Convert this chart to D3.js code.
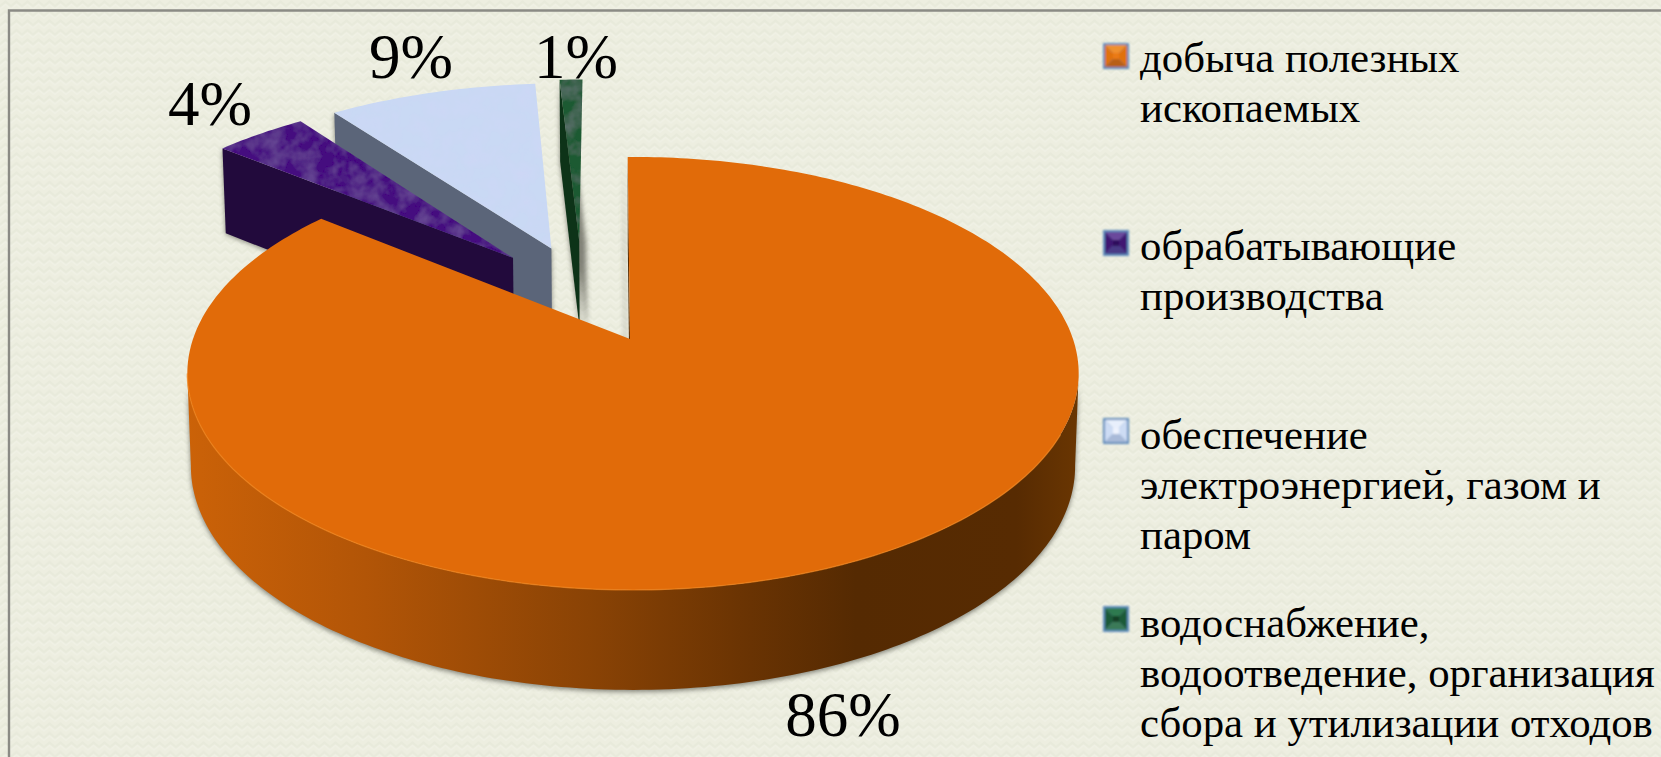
<!DOCTYPE html>
<html lang="ru"><head><meta charset="utf-8">
<script src="https://cdn.jsdelivr.net/npm/d3@7/dist/d3.min.js"></script>
<style>html,body{margin:0;padding:0;background:#edeee0;overflow:hidden}svg{display:block}</style>
</head><body><svg id="c" width="1661" height="757"></svg>
<script>
const categories = ["добыча полезных ископаемых","обрабатывающие производства","обеспечение электроэнергией, газом и паром","водоснабжение, водоотведение, организация сбора и утилизации отходов"];
const shares = [86,4,9,1];
const shareLabels = ["86%","4%","9%","1%"];
const legendLines = [["добыча полезных","ископаемых"],["обрабатывающие","производства"],["обеспечение","электроэнергией, газом и","паром"],["водоснабжение,","водоотведение, организация","сбора и утилизации отходов"]];

const topColors = ["#e16b09","#45107f","#c9d9f4","#1f5a30"];
const wallColors = ["#5a2c02","#220a3c","#5b6579","#0d3318"];
// light edge, side edge, lower edge, centre
const swatchColors = [["#f0902e","#e0710f","#b85f12","#ea7a12"],["#6a4a9c","#3f1272","#4a3a86","#2e0d5c"],["#e8effc","#cddcf4","#a9bad8","#eef3fd"],["#2f7a50","#1f5a38","#3a7a58","#123f28"]];
const explodeDist = [0,0.5,0.5,0.516];
const explodeDir = [0,325,337,345.6];
const sliceRadius = [1,1.03,1.04,1.03];
const labelPos = [[843,736],[210,125],[411,78],[576,78]];
const legendBase = [72,260,449,637];
const legendSwatchY = [43,230,418,606];

const W=1661,H=757, svg=d3.select("#c");
const X0=630,Y0=339,A=440,B=211,K=0.159,HT=91.7,SX=0.992,ROT=-0.8,RIMSHIFT=3;
const rad=d=>d*Math.PI/180;
// perspective projection of the pie's unit disc, z = 0 top face, z = 1 bottom face
function proj(x,y,z=0){const d=1+K*y;return [X0+RIMSHIFT*Math.min(1,Math.hypot(x,y))+A*x*(z?SX:1)/d, Y0-B*y/d+(z?HT/Math.sqrt(d):0)];}
const pie=d3.pie().sort(null).value(d=>d)(shares);
const line=d3.line();
const slices=pie.map((p,i)=>{
  const a0=p.startAngle*180/Math.PI+ROT,a1=p.endAngle*180/Math.PI+ROT,R=sliceRadius[i];
  const ox=explodeDist[i]*Math.sin(rad(explodeDir[i])),oy=explodeDist[i]*Math.cos(rad(explodeDir[i]));
  const n=Math.max(4,Math.ceil((a1-a0)/1));
  const th=d3.range(n+1).map(k=>a0+(a1-a0)*k/n);
  const rim=z=>th.map(t=>proj(ox+R*Math.sin(rad(t)),oy+R*Math.cos(rad(t)),z));
  return {i,a0,a1,ox,oy,th,top:[proj(ox,oy,0),...rim(0)],rimT:rim(0),rimB:rim(1),apexT:proj(ox,oy,0),apexB:proj(ox,oy,1)};
});

const defs=svg.append("defs");
const pat=defs.append("pattern").attr("id","bg").attr("width",11).attr("height",9.5).attr("patternUnits","userSpaceOnUse");
pat.append("rect").attr("width",11).attr("height",9.5).attr("fill","#edeee0");
pat.append("path").attr("d","M0 6 L5.5 1.5 L11 6").attr("fill","none").attr("stroke","#e8eadb").attr("stroke-width",2);
pat.append("path").attr("d","M0 9 L5.5 4.5 L11 9").attr("fill","none").attr("stroke","#f0f1e5").attr("stroke-width",1.5);
const g=defs.append("linearGradient").attr("id","side").attr("gradientUnits","userSpaceOnUse").attr("x1",187).attr("x2",1079).attr("y1",0).attr("y2",0);
[[0,"#cb6208"],[.2,"#b25507"],[.45,"#8a4305"],[.62,"#6b3403"],[.75,"#552a02"],[.93,"#572b02"],[1,"#6a3602"]].forEach(s=>g.append("stop").attr("offset",s[0]).attr("stop-color",s[1]));
defs.append("filter").attr("id","blur").attr("x","-20%").attr("y","-20%").attr("width","140%").attr("height","140%").append("feGaussianBlur").attr("stdDeviation",2.6);
defs.append("filter").attr("id","soft").attr("x","-10%").attr("y","-10%").attr("width","120%").attr("height","120%").append("feGaussianBlur").attr("stdDeviation",0.8);
const tex=defs.append("filter").attr("id","tex").attr("x","0").attr("y","0").attr("width","100%").attr("height","100%");
tex.append("feTurbulence").attr("type","fractalNoise").attr("baseFrequency",0.06).attr("numOctaves",3).attr("seed",4).attr("result","n");
tex.append("feColorMatrix").attr("in","n").attr("type","matrix").attr("values","0 0 0 0 0.8  0 0 0 0 0.6  0 0 0 0 1  0.22 0 0 0 -0.08").attr("result","m");
tex.append("feComposite").attr("in","m").attr("in2","SourceAlpha").attr("operator","in").attr("result","c");
tex.append("feMerge").selectAll("feMergeNode").data(["SourceGraphic","c"]).join("feMergeNode").attr("in",d=>d);

svg.append("rect").attr("width",W).attr("height",H).attr("fill","url(#bg)");
svg.append("path").attr("d","M9 757 V10.5 H1661").attr("fill","none").attr("stroke","#8b8b85").attr("stroke-width",2.4);

const closed=pts=>line(pts)+"Z";
const shadow=svg.append("g").attr("filter","url(#blur)").attr("fill","#55554c").attr("opacity",.7);
const body=svg.append("g");
[3,2,1,0].forEach(i=>{
  const s=slices[i];
  const wall=[s.rimT[0],s.apexT,s.apexB,s.rimB[0]];
  if(i===0){
    const keep=s.th.map((t,k)=>t>=99&&t<=261?k:-1).filter(k=>k>=0);
    const sil=[...keep.map(k=>s.rimT[k]),...keep.slice().reverse().map(k=>s.rimB[k])];
    shadow.append("path").attr("d",closed(sil.map(p=>[p[0],p[1]+2])));
    shadow.append("path").attr("d",closed(wall.map(p=>[p[0]-4,p[1]])));
    body.append("path").attr("d",closed(wall)).attr("fill",wallColors[0]);
    body.append("path").attr("d",closed(sil)).attr("fill","url(#side)");
    body.append("path").attr("d",closed(s.top)).attr("fill",topColors[0]);
    const front=keep.filter(k=>s.th[k]>115).map(k=>s.rimT[k]);
    body.append("path").attr("d",line(front)).attr("fill","none").attr("stroke","#f08119").attr("stroke-width",1.4).attr("opacity",.7);
  } else {
    shadow.append("path").attr("d",closed(wall.map(p=>[p[0],p[1]+1])));
    if(i===3) shadow.append("path").attr("d",closed(wall.map(p=>[p[0]+7,p[1]+2])));
    body.append("path").attr("d",closed(wall)).attr("fill",wallColors[i]);
    body.append("path").attr("d",closed(s.top)).attr("fill",topColors[i]).attr("filter","url(#tex)");
  }
});

const font="'Liberation Serif','Times New Roman',serif";
svg.append("g").selectAll("text").data(shareLabels).join("text")
  .attr("x",(d,i)=>labelPos[i][0]).attr("y",(d,i)=>labelPos[i][1]).attr("text-anchor","middle")
  .attr("font-family",font).attr("font-size",63).attr("fill","#000").text(d=>d);

const leg=svg.append("g").selectAll("g").data(categories).join("g");
leg.each(function(d,i){
  const G=d3.select(this),x=1103,y=legendSwatchY[i],w=26,c=swatchColors[i];
  G.append("title").text(d);
  const sw=G.append("g").attr("filter","url(#soft)");
  sw.append("rect").attr("x",x).attr("y",y).attr("width",w).attr("height",w).attr("fill","#5f8cbc");
  const a=x+2,z=y+2,s=w-4,m=8;
  const q=(pts,f)=>sw.append("path").attr("d",closed(pts)).attr("fill",f);
  q([[a,z],[a+s,z],[a+s-m,z+m],[a+m,z+m]],c[0]);
  q([[a,z],[a+m,z+m],[a+m,z+s-m],[a,z+s]],c[1]);
  q([[a+s,z],[a+s,z+s],[a+s-m,z+s-m],[a+s-m,z+m]],c[1]);
  q([[a,z+s],[a+m,z+s-m],[a+s-m,z+s-m],[a+s,z+s]],c[2]);
  sw.append("rect").attr("x",a+m).attr("y",z+m).attr("width",s-2*m).attr("height",s-2*m).attr("fill",c[3]);
  G.selectAll("text").data(legendLines[i]).join("text")
    .attr("x",1140).attr("y",(t,k)=>legendBase[i]+k*50)
    .attr("font-family",font).attr("font-size",42.8).attr("fill","#000").text(t=>t);
});
</script></body></html>
